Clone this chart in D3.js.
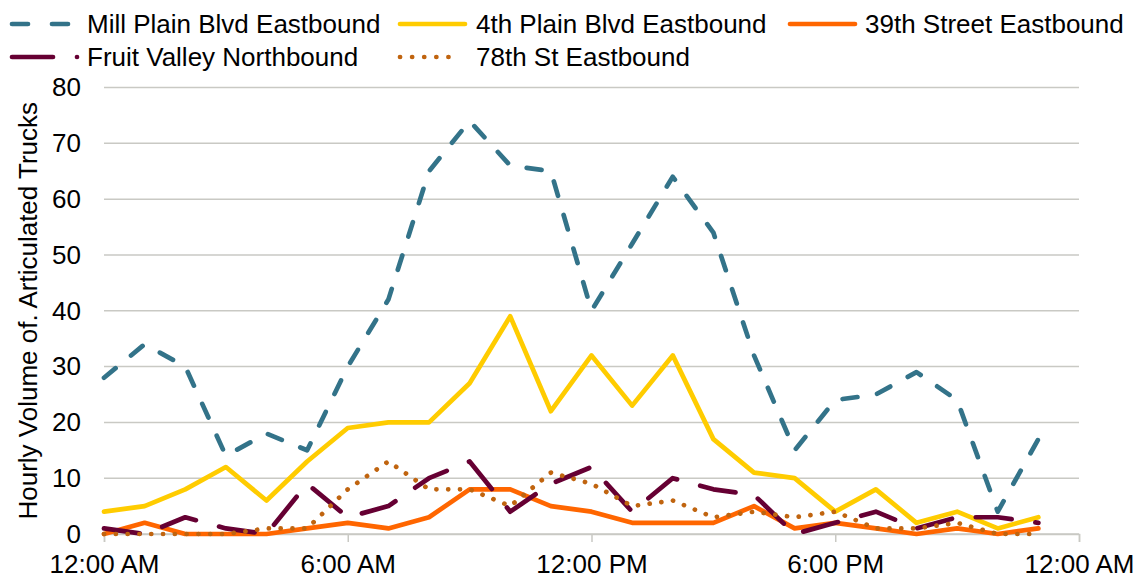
<!DOCTYPE html>
<html>
<head>
<meta charset="utf-8">
<script src="https://cdn.jsdelivr.net/npm/d3@7"></script>
<style>
  html, body { margin: 0; padding: 0; background: #fff; }
  svg { display: block; font-family: "Liberation Sans", Arial, sans-serif; }
</style>
</head>
<body>
<svg id="chart" width="1138" height="578"></svg>
<script>
// Hour of day (0 = midnight) for each observation
const hours = d3.range(0, 24);

// Hourly articulated truck volumes by location
const millPlain   = [28, 34, 30, 14, 18, 15, 30, 42, 65, 74, 66, 65, 40, 52, 64, 54, 32, 15, 24, 25, 29, 24, 4, 17];
const fourthPlain = [4, 5, 8, 12, 6, 13, 19, 20, 20, 27, 39, 22, 32, 23, 32, 17, 11, 10, 4, 8, 2, 4, 1, 3];
const street39    = [0, 2, 0, 0, 0, 1, 2, 1, 3, 8, 8, 5, 4, 2, 2, 2, 5, 1, 2, 1, 0, 1, 0, 1];
const fruitValley = [1, 0, 3, 1, 0, 9, 3, 5, 10, 13, 4, 9, 12, 4, 10, 8, 7, 0, 2, 4, 1, 3, 3, 2];
const street78    = [0, 0, 0, 0, 1, 1, 8, 13, 8, 8, 5, 11, 9, 5, 6, 3, 4, 3, 4, 1, 1, 2, 0, 0];

const seriesNames = ["Mill Plain Blvd Eastbound", "4th Plain Blvd Eastbound", "39th Street Eastbound",
                     "Fruit Valley Northbound", "78th St Eastbound"];
const seriesValues = [millPlain, fourthPlain, street39, fruitValley, street78];

const yTicks = [0, 10, 20, 30, 40, 50, 60, 70, 80];
const xTicks = [0, 6, 12, 18, 24];
const xTickLabels = ["12:00 AM", "6:00 AM", "12:00 PM", "6:00 PM", "12:00 AM"];
const yTitle = "Hourly Volume of. Articulated Trucks";

// Line styles per series
const styles = [
  { color: "#337389", dash: "15,20", width: 4.7 },
  { color: "#ffcc00", dash: null,    width: 4.7 },
  { color: "#ff6600", dash: null,    width: 4.7 },
  { color: "#660033", dash: "36,24", width: 4.7 },
  { color: "#c0640f", dash: "0.1,11.7", width: 4.7 }
];

const svg = d3.select("#chart");
const x = d3.scaleLinear().domain([0, 24]).range([104, 1079]);
const y = d3.scaleLinear().domain([0, 80]).range([534, 87.5]);
const font = 26;
const family = "Liberation Sans, Arial, sans-serif";

// Horizontal gridlines
svg.append("g").selectAll("line").data(yTicks).join("line")
  .attr("x1", x(0)).attr("x2", x(24))
  .attr("y1", d => y(d)).attr("y2", d => y(d))
  .attr("stroke", "#c9c9c4").attr("stroke-width", 1.5);

// X axis with tick marks below the baseline
const xAxis = d3.axisBottom(x).tickValues(xTicks).tickSize(8)
  .tickFormat((d, i) => xTickLabels[i]);
const gx = svg.append("g").attr("transform", `translate(0,${y(0)})`).call(xAxis);
gx.select(".domain").attr("stroke", "#c9c9c4").attr("stroke-width", 1.5);
gx.selectAll(".tick line").attr("stroke", "#c9c9c4").attr("stroke-width", 1.5);
gx.selectAll(".tick text").attr("font-size", font).attr("fill", "#000")
  .attr("font-family", family).attr("dy", null).attr("y", 39);

// Y axis labels
const yAxis = d3.axisLeft(y).tickValues(yTicks).tickSize(0).tickPadding(0);
const gy = svg.append("g").attr("transform", "translate(81,0)").call(yAxis);
gy.select(".domain").remove();
gy.selectAll(".tick text").attr("font-size", font).attr("fill", "#000")
  .attr("font-family", family);

// Y axis title
svg.append("text")
  .attr("transform", `translate(37,${(y(0) + y(80)) / 2}) rotate(-90)`)
  .attr("text-anchor", "middle")
  .attr("font-size", font).attr("fill", "#000")
  .text(yTitle);

// Series lines
const line = d3.line().x((d, i) => x(hours[i])).y(d => y(d));
svg.append("g").selectAll("path").data(seriesValues).join("path")
  .attr("d", d => line(d))
  .attr("fill", "none")
  .attr("stroke", (d, i) => styles[i].color)
  .attr("stroke-width", (d, i) => styles[i].width)
  .attr("stroke-dasharray", (d, i) => styles[i].dash)
  .attr("stroke-linecap", "round")
  .attr("stroke-linejoin", "round");

// Legend
const legendItems = [
  { sx: 10, tx: 87, ty: 24 },
  { sx: 398, tx: 476, ty: 24 },
  { sx: 788, tx: 865, ty: 24 },
  { sx: 10, tx: 87, ty: 57 },
  { sx: 398, tx: 476, ty: 57 }
];
const lg = svg.append("g");
legendItems.forEach((it, i) => {
  const s = styles[i];
  const g = lg.append("g");
  if (i === 3) {
    // long dash followed by a dot
    g.append("line").attr("x1", it.sx + 2).attr("x2", it.sx + 43).attr("y1", it.ty).attr("y2", it.ty)
      .attr("stroke", s.color).attr("stroke-width", s.width).attr("stroke-linecap", "round");
    g.append("circle").attr("cx", 77).attr("cy", it.ty).attr("r", s.width / 2).attr("fill", s.color);
  } else if (i === 0) {
    g.append("line").attr("x1", it.sx + 2).attr("x2", it.sx + 60).attr("y1", it.ty).attr("y2", it.ty)
      .attr("stroke", s.color).attr("stroke-width", s.width).attr("stroke-linecap", "round")
      .attr("stroke-dasharray", "16,24");
  } else if (i === 4) {
    g.append("line").attr("x1", it.sx + 2).attr("x2", it.sx + 62).attr("y1", it.ty).attr("y2", it.ty)
      .attr("stroke", s.color).attr("stroke-width", s.width).attr("stroke-linecap", "round")
      .attr("stroke-dasharray", "0.1,12");
  } else {
    g.append("line").attr("x1", it.sx + 2).attr("x2", it.sx + 67).attr("y1", it.ty).attr("y2", it.ty)
      .attr("stroke", s.color).attr("stroke-width", s.width).attr("stroke-linecap", "round");
  }
  g.append("text").attr("x", it.tx).attr("y", it.ty).attr("dy", "0.35em")
    .attr("font-size", font).attr("fill", "#000").text(seriesNames[i]);
});
</script>
</body>
</html>
